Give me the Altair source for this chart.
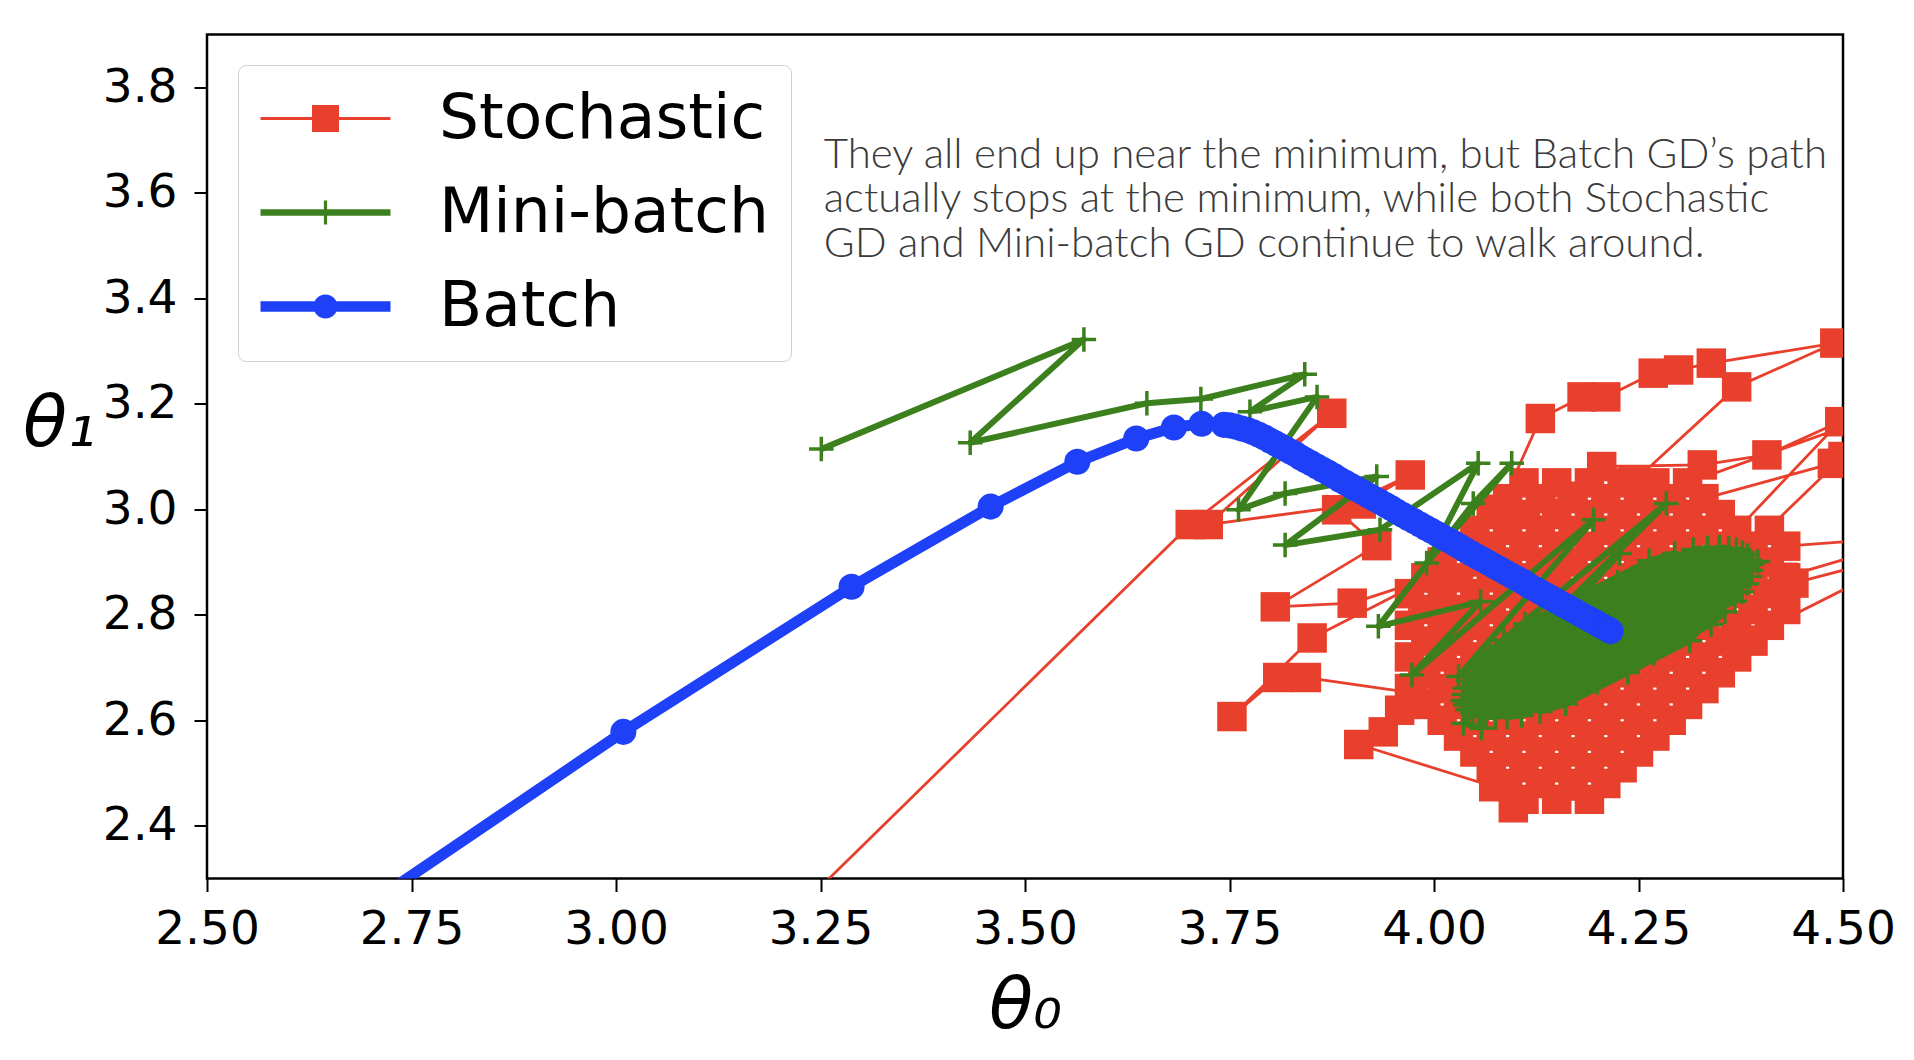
import altair as alt
import pandas as pd

# ---------------- data ----------------
series_names = ["Stochastic", "Mini-batch", "Batch"]
series_colors = ["#E8402D", "#3C801E", "#1E40F7"]

x_ticks = [2.5, 2.75, 3.0, 3.25, 3.5, 3.75, 4.0, 4.25, 4.5]
y_ticks = [2.4, 2.6, 2.8, 3.0, 3.2, 3.4, 3.6, 3.8]

# ---- Batch GD path ----
batch_x = [2.45, 3.009, 3.288, 3.458, 3.564, 3.636, 3.682, 3.716, 3.743,
           3.750, 3.757, 3.765, 3.772, 3.779, 3.786, 3.793, 3.800, 3.806, 3.812,
           3.819, 3.825, 3.831, 3.837, 3.843, 3.850, 3.857, 3.864, 3.871, 3.878,
           3.885, 3.892, 3.899, 3.906, 3.913, 3.920, 3.927, 3.934, 3.941, 3.948,
           3.955, 3.962, 3.969, 3.976, 3.983, 3.990, 3.997, 4.004, 4.011, 4.018,
           4.025, 4.032, 4.039, 4.046, 4.053, 4.060, 4.067, 4.074, 4.081, 4.088,
           4.095, 4.102, 4.109, 4.116, 4.123, 4.130, 4.137, 4.144, 4.151, 4.158,
           4.165, 4.172, 4.179, 4.186, 4.192, 4.198, 4.203, 4.207, 4.211, 4.214,
           4.216]
batch_y = [1.99, 2.578, 2.853, 3.005, 3.090, 3.134, 3.155, 3.162, 3.160,
           3.159, 3.157, 3.153, 3.150, 3.146, 3.141, 3.136, 3.130, 3.125, 3.120,
           3.114, 3.109, 3.104, 3.098, 3.093, 3.087, 3.081, 3.075, 3.069, 3.063,
           3.056, 3.050, 3.044, 3.038, 3.032, 3.026, 3.020, 3.014, 3.008, 3.002,
           2.995, 2.989, 2.983, 2.977, 2.971, 2.965, 2.959, 2.953, 2.947, 2.941,
           2.935, 2.929, 2.922, 2.916, 2.910, 2.904, 2.898, 2.892, 2.886, 2.880,
           2.874, 2.868, 2.862, 2.855, 2.849, 2.843, 2.837, 2.831, 2.825, 2.819,
           2.813, 2.807, 2.801, 2.795, 2.790, 2.785, 2.780, 2.777, 2.774, 2.771,
           2.769]

# ---- Mini-batch GD path: wandering part, then the dense blob ----
mini_walk_x = [3.251, 3.572, 3.433, 3.649, 3.715, 3.842, 3.775, 3.857, 3.761, 3.818,
               3.930, 3.818, 3.934, 4.054, 3.991, 4.095, 4.048, 3.932, 4.057, 3.973,
               4.195, 4.030, 4.284, 4.040, 4.227, 4.036, 4.058]
mini_walk_y = [3.114, 3.322, 3.126, 3.201, 3.209, 3.256, 3.185, 3.213, 2.999, 3.030,
               3.062, 2.932, 2.961, 3.087, 2.898, 3.087, 3.011, 2.778, 2.825, 2.686,
               2.980, 2.683, 3.011, 2.632, 2.916, 2.594, 2.585]
mini_blob_x = [4.1112, 4.1871, 4.2630,
               4.2942, 4.2246, 4.1550, 4.0854,
               4.0684, 4.1334, 4.2518, 4.3168,
               4.3346, 4.0562, 4.0475, 4.3489, 4.3603, 4.0415, 4.0377, 4.3697,
               4.3770, 4.0360, 4.0352, 4.3832, 4.3860, 4.0380, 4.0408, 4.3888,
               4.3880, 4.0470, 4.0543, 4.3863, 4.3825, 4.0637, 4.0752, 4.3766,
               4.3678, 4.0894,
               4.1072, 4.1722, 4.2906, 4.3556,
               4.3386, 4.2690, 4.1994, 4.1298,
               4.1610, 4.2369, 4.3128, 4.3960]
mini_blob_y = [2.7826, 2.8425, 2.9025,
               2.9166, 2.8616, 2.8066, 2.7516,
               2.7274, 2.7789, 2.8724, 2.9238,
               2.9272, 2.7072, 2.6896, 2.9278, 2.9263, 2.6744, 2.6606, 2.9230,
               2.9182, 2.6487, 2.6374, 2.9124, 2.9040, 2.6290, 2.6206, 2.8956,
               2.8844, 2.6149, 2.6100, 2.8724, 2.8587, 2.6068, 2.6052, 2.8434,
               2.8258, 2.6058,
               2.6092, 2.6607, 2.7542, 2.8056,
               2.7814, 2.7264, 2.6714, 2.6164,
               2.6306, 2.6905, 2.7505, 2.9010]

# ---- Stochastic GD path: entry, then diagonal sweeps through the cloud ----
sgd_entry_x = [3.05, 3.702, 3.875, 3.724, 3.911, 3.971, 3.881, 3.930, 3.806, 3.900,
               3.995, 3.851, 3.753, 3.809, 3.844, 3.974, 3.958, 3.938, 3.908, 4.073, 4.097]
sgd_entry_y = [1.98, 2.971, 3.182, 2.971, 3.010, 3.065, 2.999, 2.931, 2.815, 2.822,
               2.870, 2.756, 2.607, 2.681, 2.681, 2.652, 2.619, 2.578, 2.554, 2.474, 2.434]

d1_x = [4.19, 4.21, 4.23, 4.25, 4.27, 4.29, 4.31, 4.33, 4.35, 4.37, 4.39, 4.41, 4.43, 4.44]
d1_y = [2.45, 2.48, 2.51, 2.54, 2.57, 2.60, 2.63, 2.66, 2.69, 2.72, 2.75, 2.78, 2.81, 2.86]
d2_x = [4.15, 4.17, 4.19, 4.21, 4.23, 4.25, 4.27, 4.29, 4.31, 4.33, 4.35, 4.37, 4.39, 4.41, 4.43]
d2_y = [2.45, 2.48, 2.51, 2.54, 2.57, 2.60, 2.63, 2.66, 2.69, 2.72, 2.75, 2.78, 2.81, 2.84, 2.87]
d3_x = [4.11, 4.13, 4.15, 4.17, 4.19, 4.21, 4.23, 4.25, 4.27, 4.29, 4.31, 4.33, 4.35, 4.37,
        4.39, 4.41, 4.43]
d3_y = [2.45, 2.48, 2.51, 2.54, 2.57, 2.60, 2.63, 2.66, 2.69, 2.72, 2.75, 2.78, 2.81, 2.84,
        2.87, 2.90, 2.93]
d4_x = [4.09, 4.11, 4.13, 4.15, 4.17, 4.19, 4.21, 4.23, 4.25, 4.27, 4.29, 4.31, 4.33, 4.35,
        4.37, 4.39, 4.41]
d4_y = [2.48, 2.51, 2.54, 2.57, 2.60, 2.63, 2.66, 2.69, 2.72, 2.75, 2.78, 2.81, 2.84, 2.87,
        2.90, 2.93, 2.96]
d5_x = [4.07, 4.09, 4.11, 4.13, 4.15, 4.17, 4.19, 4.21, 4.23, 4.25, 4.27, 4.29, 4.31, 4.33,
        4.35, 4.37]
d5_y = [2.51, 2.54, 2.57, 2.60, 2.63, 2.66, 2.69, 2.72, 2.75, 2.78, 2.81, 2.84, 2.87, 2.90,
        2.93, 2.96]
d6_x = [4.05, 4.07, 4.09, 4.11, 4.13, 4.15, 4.17, 4.19, 4.21, 4.23, 4.25, 4.27, 4.29, 4.31,
        4.33, 4.35]
d6_y = [2.54, 2.57, 2.60, 2.63, 2.66, 2.69, 2.72, 2.75, 2.78, 2.81, 2.84, 2.87, 2.90, 2.93,
        2.96, 2.99]
d7_x = [4.03, 4.05, 4.07, 4.09, 4.11, 4.13, 4.15, 4.17, 4.19, 4.21, 4.23, 4.25, 4.27, 4.29,
        4.31, 4.33]
d7_y = [2.57, 2.60, 2.63, 2.66, 2.69, 2.72, 2.75, 2.78, 2.81, 2.84, 2.87, 2.90, 2.93, 2.96,
        2.99, 3.02]
d8_x = [4.01, 4.03, 4.05, 4.07, 4.09, 4.11, 4.13, 4.15, 4.17, 4.19, 4.21, 4.23, 4.25, 4.27,
        4.29, 4.31]
d8_y = [2.60, 2.63, 2.66, 2.69, 2.72, 2.75, 2.78, 2.81, 2.84, 2.87, 2.90, 2.93, 2.96, 2.99,
        3.02, 3.05]
d9_x = [3.99, 4.01, 4.03, 4.05, 4.07, 4.09, 4.11, 4.13, 4.15, 4.17, 4.19, 4.21, 4.23, 4.25, 4.27]
d9_y = [2.63, 2.66, 2.69, 2.72, 2.75, 2.78, 2.81, 2.84, 2.87, 2.90, 2.93, 2.96, 2.99, 3.02, 3.05]
d10_x = [3.97, 3.99, 4.01, 4.03, 4.05, 4.07, 4.09, 4.11, 4.13, 4.15, 4.17, 4.19, 4.21, 4.23]
d10_y = [2.66, 2.69, 2.72, 2.75, 2.78, 2.81, 2.84, 2.87, 2.90, 2.93, 2.96, 2.99, 3.02, 3.05]
d11_x = [3.97, 3.99, 4.01, 4.03, 4.05, 4.07, 4.09, 4.11, 4.13, 4.15, 4.17, 4.19]
d11_y = [2.72, 2.75, 2.78, 2.81, 2.84, 2.87, 2.90, 2.93, 2.96, 2.99, 3.02, 3.05]
d12_x = [3.97, 3.99, 4.01, 4.03, 4.05, 4.07, 4.09, 4.11, 4.13, 4.15]
d12_y = [2.78, 2.81, 2.84, 2.87, 2.90, 2.93, 2.96, 2.99, 3.02, 3.05]
d13_x = [3.97, 3.99, 4.01, 4.03, 4.05, 4.07, 4.09, 4.11]
d13_y = [2.84, 2.87, 2.90, 2.93, 2.96, 2.99, 3.02, 3.05]

# excursions of the stochastic path out of the cloud (some end beyond the right edge)
exc1_x, exc1_y = [4.60, 4.427], [2.95, 2.871]
exc2_x, exc2_y = [4.60, 4.378], [2.925, 2.752]
exc3_x, exc3_y = [4.496, 4.407, 4.328, 4.205], [3.166, 3.103, 3.084, 3.081]
exc4_x, exc4_y = [4.487, 4.58], [3.087, 3.20]
exc5_x = [4.08, 4.130, 4.181, 4.210, 4.268, 4.299, 4.339, 4.490, 4.370, 4.244]
exc5_y = [3.00, 3.172, 3.213, 3.213, 3.258, 3.264, 3.277, 3.315, 3.232, 3.052]
tail_x, tail_y = [4.20, 4.30, 4.50], [2.75, 2.80, 3.10]

# annotation text (anchored in data coordinates)
ann_lines = ["They all end up near the minimum, but Batch GD\u2019s path",
             "actually stops at the minimum, while both Stochastic",
             "GD and Mini-batch GD continue to walk around."]
ann_x = [3.254, 3.254, 3.254]
ann_y = [3.647, 3.563, 3.479]

# ---------------- tables ----------------
def rev(v):
    return list(reversed(v))

sgd_x = (sgd_entry_x + d3_x + exc1_x + rev(d2_x) + d1_x + exc2_x + rev(d4_x) + d5_x + exc3_x
         + rev(d6_x) + d7_x + exc4_x + rev(d8_x) + d9_x + exc5_x + rev(d10_x) + d11_x
         + rev(d12_x) + d13_x + tail_x)
sgd_y = (sgd_entry_y + d3_y + exc1_y + rev(d2_y) + d1_y + exc2_y + rev(d4_y) + d5_y + exc3_y
         + rev(d6_y) + d7_y + exc4_y + rev(d8_y) + d9_y + exc5_y + rev(d10_y) + d11_y
         + rev(d12_y) + d13_y + tail_y)
mini_x = mini_walk_x + mini_blob_x
mini_y = mini_walk_y + mini_blob_y

frames = []
for name, xs, ys in [("Stochastic", sgd_x, sgd_y), ("Mini-batch", mini_x, mini_y), ("Batch", batch_x, batch_y)]:
    f = pd.DataFrame({"x": xs, "y": ys})
    f["series"] = name
    f["order"] = range(len(f))
    frames.append(f)
paths = pd.concat(frames, ignore_index=True)
ann = pd.DataFrame({"text": ann_lines, "x": ann_x, "y": ann_y})

# ---------------- legend symbols (units of 10 px) ----------------
P_RED = "M-6.5,-0.15H6.5V0.15H-6.5Z M-1.35,-1.35H1.35V1.35H-1.35Z"
P_GREEN = "M-6.5,-0.33H6.5V0.33H-6.5Z M-0.16,-1.2H0.16V1.2H-0.16Z"
P_BLUE = "M-6.5,-0.52H6.5V0.52H-6.5Z M-1.2,0A1.2,1.2,0,1,1,1.2,0A1.2,1.2,0,1,1,-1.2,0Z"
shape_expr = ("datum.value === 'Stochastic' ? '" + P_RED + "' : (datum.value === 'Mini-batch' ? '"
              + P_GREEN + "' : '" + P_BLUE + "')")

legend = alt.Legend(
    title=None, orient="none", legendX=31, legendY=30.5,
    padding=22, strokeColor="#d0d0d0", fillColor="white", cornerRadius=8,
    labelFont="DejaVu Sans", labelFontSize=63, labelColor="black", labelLimit=600,
    rowPadding=30, symbolSize=400, symbolOffset=34, labelOffset=82,
    symbolType={"expr": shape_expr},
    symbolFillColor={"expr": "scale('color', datum.value)"},
    symbolStrokeColor="transparent",
    symbolStrokeWidth=0,
    symbolOpacity=1,
)

color_enc = alt.Color("series:N", scale=alt.Scale(domain=series_names, range=series_colors), legend=legend)
x_enc = alt.X("x:Q", scale=alt.Scale(domain=[2.5, 4.5], nice=False, zero=False),
              axis=alt.Axis(values=x_ticks, format=".2f", title="θ₀", labelPadding=15,
                            titleY=149, titleBaseline="alphabetic"))
y_enc = alt.Y("y:Q", scale=alt.Scale(domain=[2.3, 3.9], nice=False, zero=False),
              axis=alt.Axis(values=y_ticks, format=".1f", title="θ₁", labelPadding=17,
                            titleAngle=0, titleX=-148, titleY=411, titleAlign="center",
                            titleBaseline="alphabetic"))

base = alt.Chart(paths)

def line_layer(name, width):
    return base.transform_filter(alt.datum.series == name).mark_line(
        strokeWidth=width, clip=True, strokeJoin="round"
    ).encode(x=x_enc, y=y_enc, order=alt.Order("order:Q"), color=color_enc)

red_line = line_layer("Stochastic", 2.8)
red_pts = base.transform_filter(alt.datum.series == "Stochastic").mark_point(
    shape="square", filled=True, size=870, opacity=1, clip=True
).encode(x=x_enc, y=y_enc, color=color_enc)

green_line = line_layer("Mini-batch", 6)
green_pts = base.transform_filter(alt.datum.series == "Mini-batch").mark_point(
    shape="M-1,0H1M0,-1V1", filled=False, strokeWidth=3.5, size=600, opacity=1, clip=True
).encode(x=x_enc, y=y_enc, color=color_enc)

blue_line = line_layer("Batch", 11)
blue_pts = base.transform_filter(alt.datum.series == "Batch").mark_point(
    shape="circle", filled=True, size=680, opacity=1, clip=True
).encode(x=x_enc, y=y_enc, color=color_enc)

text_layer = alt.Chart(ann).mark_text(
    align="left", baseline="alphabetic", font="Lato", fontWeight=300, fontSize=42, color="#3a3a3a"
).encode(x=alt.X("x:Q"), y=alt.Y("y:Q"), text="text:N")

chart = alt.layer(
    red_line, red_pts, green_line, green_pts, blue_line, blue_pts, text_layer
).properties(
    width=1636, height=844,
    autosize=alt.AutoSizeParams(type="none"),
    padding={"left": 207, "top": 34.5, "right": 71, "bottom": 181.5},
    background="white",
).configure_view(
    stroke="black", strokeWidth=2.5, fill="white"
).configure_axis(
    labelFont="DejaVu Sans", labelFontSize=47, labelColor="black",
    labelFlush=False, labelOverlap=False,
    tickColor="black", tickSize=13, tickWidth=2, domain=False, grid=False,
    titleFont="DejaVu Sans", titleFontSize=72, titleFontStyle="italic",
    titleFontWeight="normal", titleColor="black",
)

chart.save("out.html", embed_options={"renderer": "svg", "actions": False})
